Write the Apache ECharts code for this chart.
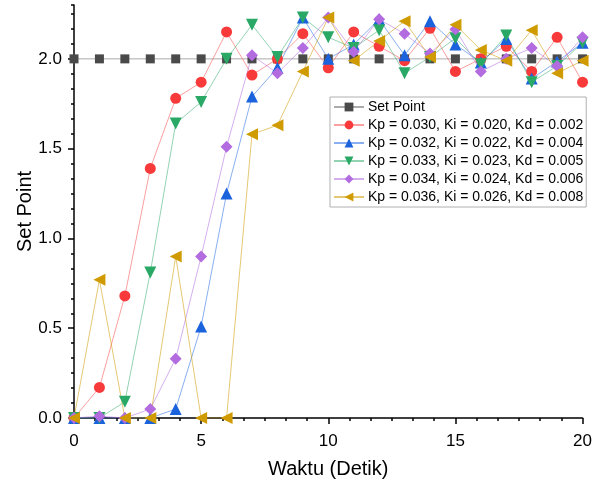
<!DOCTYPE html>
<html>
<head>
  <meta charset="utf-8">
  <script src="https://cdn.jsdelivr.net/npm/echarts@6/dist/echarts.min.js"></script>
  <style>
    body { margin: 0; background: #fff; }
    #chart { width: 595px; height: 486px; }
  </style>
</head>
<body>
  <div id="chart"></div>
  <script>
    // waktu (detik)
    var waktu = [0, 1, 2, 3, 4, 5, 6, 7, 8, 9, 10, 11, 12, 13, 14, 15, 16, 17, 18, 19, 20];
    var setPoint = [2, 2, 2, 2, 2, 2, 2, 2, 2, 2, 2, 2, 2, 2, 2, 2, 2, 2, 2, 2, 2];
    var pid1 = [0, 0.17, 0.68, 1.39, 1.78, 1.87, 2.15, 1.91, 2.00, 2.14, 1.95, 2.15, 2.07, 1.99, 2.17, 1.93, 2.00, 2.07, 1.93, 2.12, 1.87];
    var pid2 = [0, 0, 0, 0, 0.05, 0.51, 1.25, 1.79, 1.95, 2.23, 2.00, 2.08, 2.22, 2.02, 2.21, 2.08, 1.98, 2.11, 1.89, 1.985, 2.09];
    var pid3 = [0, 0, 0.09, 0.81, 1.64, 1.76, 2.00, 2.19, 2.01, 2.23, 2.12, 2.06, 2.16, 1.92, 2.01, 2.115, 1.97, 2.13, 1.87, 1.96, 2.09];
    var pid4 = [0, 0.01, 0, 0.05, 0.33, 0.90, 1.51, 2.02, 1.92, 2.06, 2.23, 2.04, 2.22, 2.14, 2.03, 2.165, 1.93, 2.00, 2.06, 1.96, 2.12];
    var pid5 = [0, 0.77, 0, 0, 0.90, 0, 0, 1.58, 1.63, 1.93, 2.23, 1.99, 2.10, 2.21, 2.01, 2.19, 2.05, 1.99, 2.16, 1.92, 1.99];
    var names = [
      'Set Point',
      'Kp = 0.030, Ki = 0.020, Kd = 0.002',
      'Kp = 0.032, Ki = 0.022, Kd = 0.004',
      'Kp = 0.033, Ki = 0.023, Kd = 0.005',
      'Kp = 0.034, Ki = 0.024, Kd = 0.006',
      'Kp = 0.036, Ki = 0.026, Kd = 0.008'
    ];
    var yTicks = [0, 0.5, 1, 1.5, 2];

    var font = 'Liberation Sans, Arial, sans-serif';

    function pairs(ys) {
      return waktu.map(function (t, i) { return [t, ys[i]]; });
    }

    // satu seri garis + simbol
    function seri(name, ys, color, lineColor, symbol, size, rotate) {
      return {
        name: name,
        type: 'line',
        data: pairs(ys),
        symbol: symbol,
        symbolSize: size,
        symbolRotate: rotate || 0,
        showAllSymbol: true,
        animation: false,
        itemStyle: { color: color, opacity: 1 },
        lineStyle: { color: lineColor, width: 1 },
        emphasis: { disabled: true }
      };
    }

    var chart = echarts.init(document.getElementById('chart'), null, { renderer: 'canvas' });

    var option = {
      backgroundColor: '#fff',
      textStyle: { fontFamily: font },
      grid: { left: 74, right: 10, top: 5, bottom: 68 },
      legend: {
        orient: 'vertical',
        left: 330,
        top: 97,
        padding: [2, 3, 2, 3],
        itemWidth: 30,
        itemHeight: 11,
        itemGap: 2,
        backgroundColor: '#fff',
        borderColor: '#b0b0b0',
        borderWidth: 1,
        textStyle: { fontFamily: font, fontSize: 14, lineHeight: 16, color: '#000', padding: [0, 0, 0, -1] },
        data: names
      },
      xAxis: {
        type: 'value',
        min: 0,
        max: 20,
        interval: 5,
        name: 'Waktu (Detik)',
        nameLocation: 'middle',
        nameGap: 41,
        nameMoveOverlap: false,
        nameTextStyle: { fontFamily: font, fontSize: 20, color: '#000' },
        axisLine: { lineStyle: { color: '#000', width: 1.5 } },
        axisTick: { length: 6, lineStyle: { color: '#000', width: 1.5 } },
        minorTick: { show: true, splitNumber: 6, length: 3, lineStyle: { color: '#000', width: 1.5 } },
        axisLabel: { fontFamily: font, fontSize: 17, color: '#000', margin: 15 },
        splitLine: { show: false }
      },
      yAxis: [{
        type: 'value',
        min: 0,
        max: 2.3,
        interval: 0.5,
        name: 'Set Point',
        nameLocation: 'middle',
        nameGap: 39,
        nameMoveOverlap: false,
        nameTextStyle: { fontFamily: font, fontSize: 20, color: '#000' },
        axisLine: { show: true, lineStyle: { color: '#000', width: 1.5 } },
        axisTick: { show: true, length: 6, customValues: yTicks, lineStyle: { color: '#000', width: 1.5 } },
        axisLabel: {
          fontFamily: font, fontSize: 17, color: '#000', margin: 12,
          customValues: yTicks,
          formatter: function (v) { return v.toFixed(1); }
        },
        splitLine: { show: false }
      }, {
        // tick minor sumbu Y
        type: 'value',
        position: 'left',
        min: 0,
        max: 2.3,
        interval: 0.5 / 6,
        axisLine: { show: false },
        axisTick: { show: true, length: 3, lineStyle: { color: '#000', width: 1.5 } },
        axisLabel: { show: false },
        splitLine: { show: false }
      }],
      series: [
        seri(names[0], setPoint, '#4a4a4a', 'rgba(150,150,150,0.8)', 'rect', 9),
        seri(names[1], pid1, '#f83a3a', 'rgba(248,80,80,0.55)', 'circle', 11),
        seri(names[2], pid2, '#1b63dd', 'rgba(40,110,230,0.55)', 'triangle', 12),
        seri(names[3], pid3, '#2aa866', 'rgba(42,168,102,0.5)', 'triangle', 12, 180),
        seri(names[4], pid4, '#b36be0', 'rgba(179,107,224,0.55)', 'diamond', 12),
        seri(names[5], pid5, '#cf9b00', 'rgba(207,155,0,0.55)', 'triangle', 12, 90)
      ]
    };

    chart.setOption(option);
  </script>
</body>
</html>
